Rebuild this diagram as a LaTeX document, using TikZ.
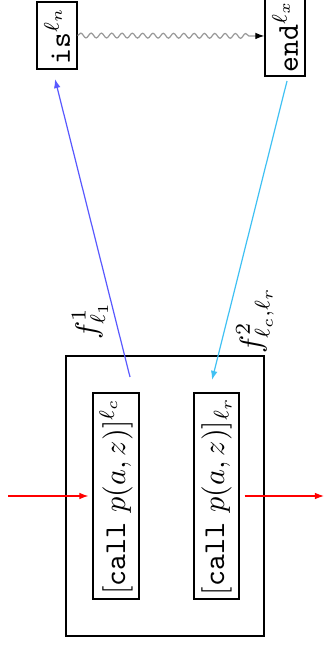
\documentclass[tikz,border=0pt]{standalone}
\usetikzlibrary{arrows.meta,decorations.pathmorphing}
\begin{document}
\def\u{0.33pt}
\begin{tikzpicture}[x=0.33pt,y=-0.33pt,
  box/.style={draw, rotate=90, inner sep=0pt, line width=0.4pt},
  tip/.style={-{Latex[length=3pt,width=2.2pt]}},
  lbl/.style={rotate=90, inner sep=0pt}]
\useasboundingbox (0,0) rectangle (324,646);
\node[box, minimum width=67*\u, minimum height=40*\u] (is) at (57,35.5) {\texttt{is}$^{\ell_n}$};
\node[box, minimum width=80*\u, minimum height=40*\u] (end) at (285,36) {\texttt{end}$^{\ell_x}$};
\node[draw, minimum width=198*\u, minimum height=280*\u, inner sep=0pt] (outer) at (165,496) {};
\node[box, minimum width=206*\u, minimum height=46*\u] (c1) at (116,496) {[\texttt{call} $p(a,z)$]$^{\ell_c}$};
\node[box, minimum width=206*\u, minimum height=45*\u] (c2) at (216.5,496) {[\texttt{call} $p(a,z)$]$_{\ell_r}$};
\node[lbl] (f1) at (90,320) {$f^1_{\ell_1}$};
\node[lbl] (f2) at (255,320) {$f^2_{\ell_c,\ell_r}$};
\coordinate (inS) at (8,496);
\coordinate (outE) at (324,496);
\coordinate (b0) at (130,377);
\coordinate (b1) at (55,79);
\coordinate (c0) at (287,81);
\coordinate (cend) at (212,380);
\draw[gray!80, decorate, decoration={snake, amplitude=0.8pt, segment length=3.4pt, post length=4pt},
  -{Latex[black,length=3pt,width=2.2pt]}] (is.south) -- (end.north);
\draw[red, tip, shorten >=4*\u] (inS) -- (c1.north);
\draw[red, tip, shorten <=5*\u] (c2.south) -- (outE);
\draw[blue!65, tip] (b0) -- (b1);
\draw[cyan!75, tip] (c0) -- (cend);
\end{tikzpicture}
\end{document}
